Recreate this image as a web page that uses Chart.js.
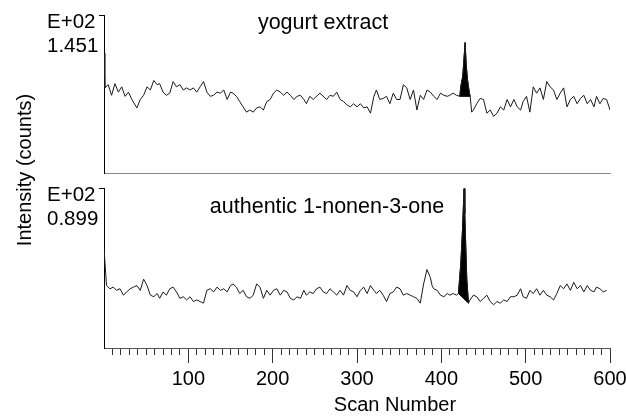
<!DOCTYPE html>
<html>
<head>
<meta charset="utf-8">
<script src="https://cdn.jsdelivr.net/npm/chart.js@4.4.0/dist/chart.umd.min.js"></script>
<style>
  body { margin: 0; background: #fff; }
  #wrap { position: relative; width: 626px; height: 416px; }
  .panel { position: absolute; left: 0; top: 0; width: 626px; }
</style>
</head>
<body>
<div id="wrap">
  <div class="panel" style="height:416px"><canvas id="bottom-chart"></canvas></div>
  <div class="panel" style="height:180px"><canvas id="top-chart"></canvas></div>
</div>
<script>
// yogurt extract trace (scan number, intensity x E+02)
const topScans = [0, 1, 5, 9, 13, 17, 21, 25, 29, 33, 39, 43, 47, 51, 55, 59, 63, 66, 70, 74,
  78, 82, 86, 90, 94, 98, 102, 106, 110, 114, 118, 122, 126, 130, 134, 138, 142, 146, 150, 153,
  157, 161, 165, 169, 173, 177, 181, 185, 189, 193, 197, 201, 205, 209, 213, 217, 221, 225, 229, 233,
  237, 240, 244, 248, 256, 264, 268, 272, 276, 280, 284, 288, 292, 296, 300, 304, 308, 312, 316, 320,
  323, 327, 331, 335, 339, 343, 347, 351, 355, 359, 363, 367, 371, 375, 379, 383, 387, 391, 395, 399,
  403, 407, 410, 414, 418, 422, 423, 425.4, 428.2, 429.4, 431, 433.3, 434.2, 436, 438, 442, 446, 450, 454, 458,
  462, 466, 470, 474, 478, 482, 486, 490, 494, 497, 501, 505, 509, 513, 517, 521, 525, 529, 533, 537,
  541, 545, 549, 553, 557, 561, 565, 569, 573, 577, 581, 584, 588, 592, 596, 600];
const topIntensity = [1.09, 0.76, 0.79, 0.69, 0.80, 0.72, 0.77, 0.68, 0.72, 0.65, 0.57, 0.65, 0.69, 0.77, 0.74, 0.83, 0.79, 0.80, 0.72, 0.69,
  0.71, 0.82, 0.77, 0.79, 0.74, 0.76, 0.74, 0.76, 0.72, 0.77, 0.82, 0.72, 0.68, 0.69, 0.72, 0.71, 0.74, 0.65, 0.72, 0.71,
  0.68, 0.63, 0.58, 0.53, 0.55, 0.53, 0.57, 0.58, 0.55, 0.63, 0.65, 0.71, 0.74, 0.72, 0.69, 0.72, 0.69, 0.65, 0.68, 0.69,
  0.65, 0.61, 0.68, 0.65, 0.71, 0.65, 0.69, 0.68, 0.72, 0.65, 0.63, 0.60, 0.58, 0.61, 0.58, 0.61, 0.57, 0.58, 0.52, 0.68,
  0.74, 0.65, 0.66, 0.68, 0.61, 0.71, 0.65, 0.65, 0.79, 0.76, 0.65, 0.74, 0.55, 0.69, 0.65, 0.74, 0.72, 0.68, 0.65, 0.71,
  0.69, 0.68, 0.69, 0.71, 0.69, 0.68, 0.77, 0.87, 1.19, 0.99, 0.84, 0.71, 0.68, 0.53, 0.55, 0.61, 0.66, 0.65, 0.52, 0.55,
  0.49, 0.52, 0.58, 0.55, 0.65, 0.58, 0.65, 0.58, 0.55, 0.63, 0.68, 0.53, 0.77, 0.71, 0.76, 0.65, 0.82, 0.77, 0.74, 0.65,
  0.71, 0.76, 0.58, 0.65, 0.68, 0.61, 0.66, 0.69, 0.61, 0.65, 0.58, 0.68, 0.61, 0.66, 0.65, 0.55];

// authentic 1-nonen-3-one trace
const bottomScans = [0, 3, 7, 11, 15, 19, 23, 27, 31, 35, 39, 43, 47, 51, 55, 59, 63, 66, 70, 74,
  78, 82, 86, 90, 94, 98, 102, 106, 110, 114, 118, 122, 126, 130, 134, 138, 142, 146, 150, 153,
  157, 161, 165, 169, 173, 177, 181, 185, 189, 193, 197, 201, 205, 209, 213, 217, 221, 225, 229, 233,
  237, 240, 244, 248, 252, 256, 260, 264, 268, 272, 276, 280, 284, 288, 292, 296, 300, 304, 308, 312,
  316, 320, 323, 327, 331, 335, 339, 343, 347, 351, 355, 359, 363, 367, 371, 375, 379, 383, 387, 389,
  391, 395, 399, 403, 407, 410, 414, 418, 420.3, 423.1, 425.1, 427, 427.8, 429, 430.2, 432.2, 434, 438, 442, 446,
  450, 454, 458, 462, 466, 470, 474, 478, 482, 486, 490, 494, 497, 501, 505, 509, 513, 517, 521, 525,
  529, 533, 537, 541, 545, 549, 553, 557, 561, 565, 569, 573, 577, 581, 584, 588, 592, 596];
const bottomIntensity = [0.52, 0.29, 0.27, 0.28, 0.26, 0.27, 0.23, 0.25, 0.27, 0.28, 0.29, 0.26, 0.33, 0.29, 0.23, 0.22, 0.24, 0.21, 0.25, 0.23,
  0.27, 0.28, 0.25, 0.21, 0.22, 0.20, 0.22, 0.19, 0.20, 0.19, 0.18, 0.26, 0.27, 0.25, 0.28, 0.26, 0.27, 0.25, 0.29, 0.30,
  0.28, 0.24, 0.26, 0.22, 0.21, 0.23, 0.30, 0.28, 0.21, 0.26, 0.23, 0.26, 0.27, 0.23, 0.26, 0.25, 0.21, 0.20, 0.22, 0.21,
  0.26, 0.23, 0.25, 0.24, 0.27, 0.28, 0.25, 0.24, 0.27, 0.25, 0.23, 0.26, 0.23, 0.29, 0.26, 0.25, 0.22, 0.26, 0.28, 0.24,
  0.29, 0.26, 0.24, 0.26, 0.23, 0.19, 0.24, 0.25, 0.28, 0.27, 0.23, 0.24, 0.23, 0.22, 0.21, 0.18, 0.30, 0.39, 0.34, 0.29,
  0.27, 0.26, 0.23, 0.22, 0.24, 0.23, 0.24, 0.23, 0.24, 0.43, 0.64, 0.895, 0.74, 0.53, 0.33, 0.18, 0.20, 0.23, 0.22, 0.19,
  0.21, 0.23, 0.19, 0.17, 0.19, 0.18, 0.20, 0.19, 0.22, 0.22, 0.23, 0.27, 0.22, 0.21, 0.26, 0.24, 0.27, 0.23, 0.26, 0.23,
  0.22, 0.20, 0.24, 0.29, 0.27, 0.30, 0.26, 0.31, 0.27, 0.29, 0.25, 0.29, 0.26, 0.25, 0.28, 0.27, 0.25, 0.26];

// integrated (black) peak ranges, in scans
const topPeakRange = [422, 434.2];
const bottomPeakRange = [420.3, 432.2];

const topMax = 1.451;
const bottomMax = 0.899;
const topMin = -0.047;
const bottomMin = -0.1;
const exponentLabel = 'E+02';
const xTickLabels = [100, 200, 300, 400, 500, 600];
const xMinorStep = 10;

const FONT = '"Liberation Sans", Arial, Helvetica, sans-serif';
Chart.defaults.font.family = FONT;
Chart.defaults.color = '#000';

const toPoints = (xs, ys) => xs.map((x, i) => ({ x, y: ys[i] }));

function buildDatasets(xs, ys, range) {
  const all = toPoints(xs, ys);
  const peak = all.filter(p => p.x >= range[0] && p.x <= range[1]);
  const base = [peak[0], peak[peak.length - 1]];
  return [
    { data: all, borderColor: '#1a1a1a', borderWidth: 1, fill: false },
    { data: peak, borderColor: '#000', borderWidth: 1, backgroundColor: '#000', fill: '+1' },
    { data: base, borderColor: '#000', borderWidth: 1, fill: false },
  ];
}

// free text: panel captions and axis titles
const textPlugin = {
  id: 'freeText',
  afterDraw(chart, args, opts) {
    const ctx = chart.ctx;
    (opts.items || []).forEach(t => {
      ctx.save();
      ctx.fillStyle = '#000';
      ctx.font = (t.size || 20) + 'px ' + FONT;
      ctx.textAlign = 'center';
      ctx.textBaseline = 'alphabetic';
      ctx.translate(t.x, t.y);
      if (t.rotate) ctx.rotate(t.rotate);
      ctx.fillText(t.text, 0, 0);
      ctx.restore();
    });
  }
};

function yAxis(min, max) {
  return {
    type: 'linear',
    min: min,
    max: max,
    afterBuildTicks: s => { s.ticks = [{ value: max }]; },
    afterFit: s => { s.width = 57; s.paddingTop = 0; s.paddingBottom = 0; },
    ticks: {
      autoSkip: false,
      crossAlign: 'far',
      labelOffset: 19,
      font: { size: 20.5, lineHeight: 1.17 },
      color: '#000',
      callback: () => [exponentLabel, max.toFixed(3)],
    },
    grid: { drawOnChartArea: false, tickLength: 5, color: '#000' },
    border: { color: '#000', width: 1 },
  };
}

const common = {
  type: 'line',
  plugins: [textPlugin],
};

const baseOptions = {
  responsive: true,
  maintainAspectRatio: false,
  animation: false,
  elements: { point: { radius: 0 }, line: { tension: 0 } },
};

new Chart(document.getElementById('top-chart'), {
  ...common,
  data: { datasets: buildDatasets(topScans, topIntensity, topPeakRange) },
  options: {
    ...baseOptions,
    layout: { padding: { left: 47, right: 16, top: 15, bottom: 7 } },
    plugins: {
      legend: { display: false },
      tooltip: { enabled: false },
      freeText: { items: [{ text: 'yogurt extract', x: 323, y: 29, size: 21.5 }] },
    },
    scales: {
      x: {
        type: 'linear', min: 0, max: 600,
        ticks: { display: false },
        grid: { display: false, drawTicks: false },
        border: { color: '#888', width: 1 },
        afterFit: s => { s.height = 0; s.paddingLeft = 0; s.paddingRight = 0; },
      },
      y: yAxis(topMin, topMax),
    },
  },
});

new Chart(document.getElementById('bottom-chart'), {
  ...common,
  data: { datasets: buildDatasets(bottomScans, bottomIntensity, bottomPeakRange) },
  options: {
    ...baseOptions,
    layout: { padding: { left: 47, right: 16, top: 188, bottom: 0 } },
    plugins: {
      legend: { display: false },
      tooltip: { enabled: false },
      freeText: {
        items: [
          { text: 'authentic 1-nonen-3-one', x: 327, y: 213, size: 21.5 },
          { text: 'Scan Number', x: 395, y: 411, size: 20 },
          { text: 'Intensity (counts)', x: 31, y: 170, size: 20, rotate: -Math.PI / 2 },
        ],
      },
    },
    scales: {
      x: {
        type: 'linear', min: 0, max: 600,
        afterBuildTicks: s => {
          const ticks = [];
          for (let v = 0; v <= 600; v += xMinorStep) ticks.push({ value: v });
          s.ticks = ticks;
        },
        afterFit: s => { s.height = 68; s.paddingLeft = 0; s.paddingRight = 0; },
        ticks: {
          autoSkip: false,
          maxRotation: 0,
          padding: 4,
          font: { size: 20 },
          color: '#000',
          callback: v => (xTickLabels.includes(v) ? String(v) : ''),
        },
        grid: {
          drawOnChartArea: false,
          tickLength: 15,
          color: '#333',
          tickColor: c => (c.tick && c.tick.value === 0 ? 'rgba(0,0,0,0)' : '#333'),
          tickBorderDash: c => (c.tick && c.tick.value % 100 === 0 ? [] : [6, 30]),
        },
        border: { color: '#555', width: 1 },
      },
      y: yAxis(bottomMin, bottomMax),
    },
  },
});
</script>
</body>
</html>
